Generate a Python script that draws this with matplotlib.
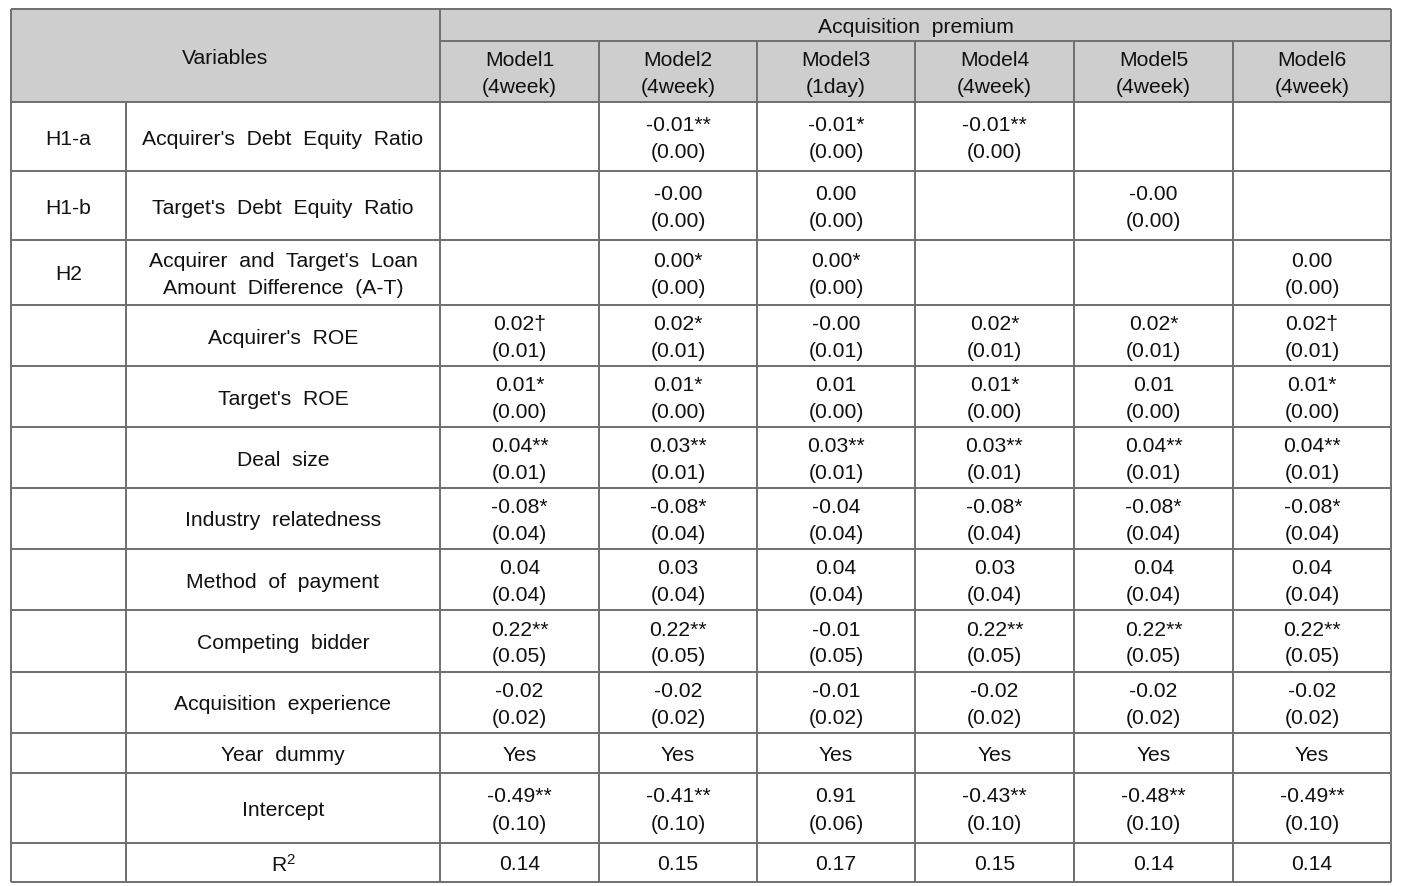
import matplotlib
matplotlib.use('Agg')
import matplotlib.pyplot as plt
from matplotlib.patches import Rectangle

plt.rcParams['font.family'] = ['Liberation Sans', 'DejaVu Sans']
plt.rcParams['mathtext.fontset'] = 'custom'
plt.rcParams['mathtext.rm'] = 'Liberation Sans'
plt.rcParams['mathtext.it'] = 'Liberation Sans:italic'

# ---------------- data ----------------
header_left = "Variables"
header_group = "Acquisition  premium"
models = ["Model1", "Model2", "Model3", "Model4", "Model5", "Model6"]
windows = ["(4week)", "(4week)", "(1day)", "(4week)", "(4week)", "(4week)"]

hypotheses = ["H1-a", "H1-b", "H2", "", "", "", "", "", "", "", "", "", ""]
variables = [
    ["Acquirer's  Debt  Equity  Ratio"],
    ["Target's  Debt  Equity  Ratio"],
    ["Acquirer  and  Target's  Loan", "Amount  Difference  (A-T)"],
    ["Acquirer's  ROE"],
    ["Target's  ROE"],
    ["Deal  size"],
    ["Industry  relatedness"],
    ["Method  of  payment"],
    ["Competing  bidder"],
    ["Acquisition  experience"],
    ["Year  dummy"],
    ["Intercept"],
    ["R$^2$"],
]

coef_m1 = ["", "", "", "0.02†", "0.01*", "0.04**", "-0.08*", "0.04", "0.22**", "-0.02", "Yes", "-0.49**", "0.14"]
se_m1 = ["", "", "", "(0.01)", "(0.00)", "(0.01)", "(0.04)", "(0.04)", "(0.05)", "(0.02)", "", "(0.10)", ""]
coef_m2 = ["-0.01**", "-0.00", "0.00*", "0.02*", "0.01*", "0.03**", "-0.08*", "0.03", "0.22**", "-0.02", "Yes", "-0.41**", "0.15"]
se_m2 = ["(0.00)", "(0.00)", "(0.00)", "(0.01)", "(0.00)", "(0.01)", "(0.04)", "(0.04)", "(0.05)", "(0.02)", "", "(0.10)", ""]
coef_m3 = ["-0.01*", "0.00", "0.00*", "-0.00", "0.01", "0.03**", "-0.04", "0.04", "-0.01", "-0.01", "Yes", "0.91", "0.17"]
se_m3 = ["(0.00)", "(0.00)", "(0.00)", "(0.01)", "(0.00)", "(0.01)", "(0.04)", "(0.04)", "(0.05)", "(0.02)", "", "(0.06)", ""]
coef_m4 = ["-0.01**", "", "", "0.02*", "0.01*", "0.03**", "-0.08*", "0.03", "0.22**", "-0.02", "Yes", "-0.43**", "0.15"]
se_m4 = ["(0.00)", "", "", "(0.01)", "(0.00)", "(0.01)", "(0.04)", "(0.04)", "(0.05)", "(0.02)", "", "(0.10)", ""]
coef_m5 = ["", "-0.00", "", "0.02*", "0.01", "0.04**", "-0.08*", "0.04", "0.22**", "-0.02", "Yes", "-0.48**", "0.14"]
se_m5 = ["", "(0.00)", "", "(0.01)", "(0.00)", "(0.01)", "(0.04)", "(0.04)", "(0.05)", "(0.02)", "", "(0.10)", ""]
coef_m6 = ["", "", "0.00", "0.02†", "0.01*", "0.04**", "-0.08*", "0.04", "0.22**", "-0.02", "Yes", "-0.49**", "0.14"]
se_m6 = ["", "", "(0.00)", "(0.01)", "(0.00)", "(0.01)", "(0.04)", "(0.04)", "(0.05)", "(0.02)", "", "(0.10)", ""]

coefs = [coef_m1, coef_m2, coef_m3, coef_m4, coef_m5, coef_m6]
ses = [se_m1, se_m2, se_m3, se_m4, se_m5, se_m6]

# ---------------- layout (pixels) ----------------
W, H = 1411, 886
x_left, x_hyp, x_var, x_right = 11, 126, 440, 1391
col_edges = [440, 599, 757, 915, 1074, 1233, 1391]
y_top, y_split, y_head = 9, 41, 102
row_edges = [102, 171, 240, 305, 366, 427, 488, 549, 610, 672, 733, 773, 843, 882]
line_gap = 13.5
dy = 2.5
fs = 15.2
line_color = '#6f6f6f'
lw = 1.4

fig = plt.figure(figsize=(W / 100, H / 100), dpi=100)
ax = fig.add_axes([0, 0, 1, 1])
ax.set_xlim(0, W)
ax.set_ylim(H, 0)
ax.axis('off')

# header fill
ax.add_patch(Rectangle((x_left, y_top), x_right - x_left, y_head - y_top,
                       facecolor='#cecece', edgecolor='none', zorder=0))

# grid lines
hl = dict(color=line_color, lw=lw, zorder=2)
ax.hlines(y_top, x_left, x_right, **hl)
ax.hlines(y_split, x_var, x_right, **hl)
for y in row_edges:
    ax.hlines(y, x_left, x_right, **hl)
ax.vlines(x_left, y_top, row_edges[-1], **hl)
ax.vlines(x_right, y_top, row_edges[-1], **hl)
ax.vlines(x_var, y_top, row_edges[-1], **hl)
ax.vlines(x_hyp, y_head, row_edges[-1], **hl)
for x in col_edges[1:-1]:
    ax.vlines(x, y_split, row_edges[-1], **hl)

tk = dict(ha='center', va='center', fontsize=fs, color='#111111', zorder=3)


def put(x, y, s):
    ax.text(x, y + dy, s, **tk)


# header text
put((x_left + x_var) / 2, (y_top + y_head) / 2, header_left)
put((x_var + x_right) / 2, (y_top + y_split) / 2, header_group)
hc = (y_split + y_head) / 2
for i, (m, w) in enumerate(zip(models, windows)):
    xc = (col_edges[i] + col_edges[i + 1]) / 2
    put(xc, hc - line_gap, m)
    put(xc, hc + line_gap, w)

# body
for r in range(len(variables)):
    yc = (row_edges[r] + row_edges[r + 1]) / 2
    put((x_left + x_hyp) / 2, yc, hypotheses[r])
    lines = variables[r]
    if len(lines) == 1:
        put((x_hyp + x_var) / 2, yc, lines[0])
    else:
        put((x_hyp + x_var) / 2, yc - line_gap, lines[0])
        put((x_hyp + x_var) / 2, yc + line_gap, lines[1])
    for i in range(len(models)):
        xc = (col_edges[i] + col_edges[i + 1]) / 2
        c, s = coefs[i][r], ses[i][r]
        if s:
            put(xc, yc - line_gap, c)
            put(xc, yc + line_gap, s)
        elif c:
            put(xc, yc, c)

fig.savefig('out.png', dpi=100, facecolor='white')
